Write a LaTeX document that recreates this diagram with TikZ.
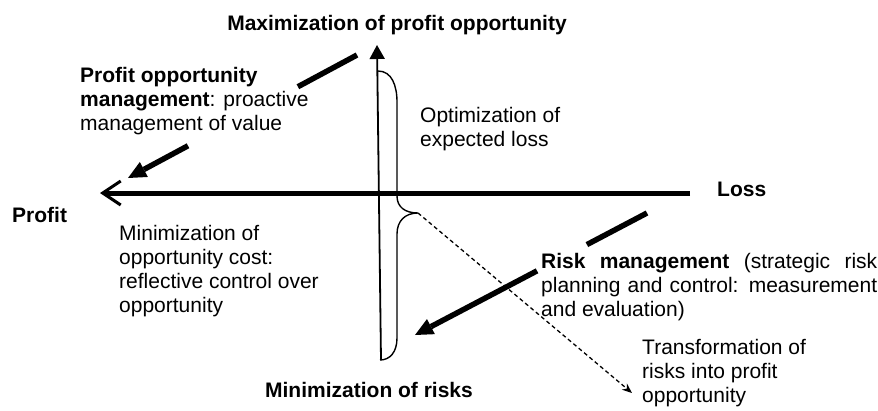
\documentclass[tikz,border=0pt]{standalone}
\usepackage{fontspec}
\setmainfont{Liberation Sans}
\usetikzlibrary{arrows.meta,calc}
\begin{document}
\begin{tikzpicture}[x=1pt,y=-1pt,
  txt/.style={inner sep=0pt,font=\fontsize{21}{24}\selectfont,align=left,
    execute at begin node=\strut},
  ttl/.style={inner sep=0pt,font=\fontsize{21}{24}\selectfont\bfseries},
  axis/.style={line width=5pt},
  thin axis/.style={line width=1.8pt},
  brace line/.style={line width=1.4pt},
  mgmt/.style={line width=5.5pt},
  mgmt tip/.style={-{Triangle[length=18pt,width=17pt,line width=0pt]}},
  link/.style={line width=1.3pt,dashed,dash pattern=on 4pt off 3pt,
    -{Stealth[length=10pt,width=8pt]}}
]
\useasboundingbox (0,0) rectangle (878,410);

% axes
\coordinate (xl) at (100,193);
\coordinate (xr) at (690,193);
\coordinate (yt) at (377,45);
\coordinate (yb) at (381,360);
\draw[axis,-{Straight Barb[length=18pt,width=24pt,line width=3pt]}] (xr) -- (xl);
\draw[thin axis,-{Triangle[length=14pt,width=15pt]}] (yb) -- (yt);

% brace along the vertical axis
\coordinate (bt) at (378,71);
\coordinate (bm) at (418,213);
\coordinate (bb) at (380,360);
\draw[brace line] (bt) .. controls (392,71) and (397,86) .. (397,102)
  -- (397,196) .. controls (397,207) and (405,213) .. (bm)
  .. controls (405,213) and (397,221) .. (397,234)
  -- (397,338) .. controls (397,352) and (390,360) .. (bb);

% dashed link from the brace tip
\coordinate (tr) at (632,393);
\draw[link] (bm) -- (tr);

% profit opportunity management arrow (interrupted by its label)
\coordinate (pa) at (357,55);
\coordinate (pb) at (128,178);
\draw[mgmt] (pa) -- ($(pa)!0.258!(pb)$);
\draw[mgmt,mgmt tip] ($(pa)!0.738!(pb)$) -- (pb);

% risk management arrow (interrupted by its label)
\coordinate (ra) at (647,213);
\coordinate (rb) at (415,335);
\draw[mgmt] (ra) -- ($(ra)!0.259!(rb)$);
\draw[mgmt,mgmt tip] ($(ra)!0.474!(rb)$) -- (rb);

% labels
\node[ttl,anchor=base] (max) at (397,30) {Maximization of profit opportunity};
\node[ttl,anchor=base] (min) at (369,397) {Minimization of risks};
\node[ttl,anchor=base west] (loss) at (717,196) {Loss};
\node[ttl,anchor=base west] (profit) at (12,222) {Profit};

\node[txt,anchor=north west] (pom) at (80,67.2)
  {\textbf{Profit opportunity}\\\textbf{management}: proactive\\management of value};
\node[txt,anchor=north west] (opt) at (420,107.2)
  {Optimization of\\expected loss};
\node[txt,anchor=north west] (moc) at (119,225.2)
  {Minimization of\\opportunity cost:\\reflective control over\\opportunity};
\node[txt,anchor=north west,text width=336pt,align=justify] (rm) at (541,251.2)
  {\textbf{Risk management} (strategic risk\linebreak planning and control: measurement\linebreak and evaluation)};
\node[txt,anchor=north west] (trf) at (642,339.2)
  {Transformation of\\risks into profit\\opportunity};
\end{tikzpicture}
\end{document}
